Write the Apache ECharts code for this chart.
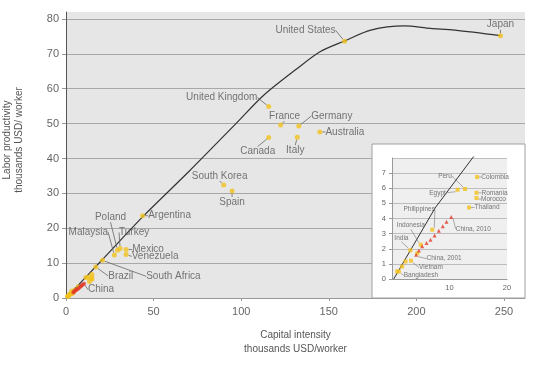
<!DOCTYPE html>
<html><head><meta charset="utf-8">
<script src="https://cdn.jsdelivr.net/npm/echarts@6/dist/echarts.min.js"></script>
<style>html,body{margin:0;padding:0;background:#fff}#c{width:550px;height:366px}</style>
</head><body><div id="c"></div>
<script>
// ---- data ----
const countries = ['Japan','United States','United Kingdom','France','Germany','Australia','Italy','Canada',
  'South Korea','Spain','Argentina','Poland','Turkey','Mexico','Venezuela','Malaysia','South Africa','Brazil',
  'Colombia','Peru','Egypt','Romania','Morocco','Thailand','Philippines','Indonesia','India','Other A',
  'Vietnam','Bangladesh','Other B','Other C','Other D'];
const capitalIntensity = [248,159,115.7,122.5,132.9,144.9,132,115.7,
  90,94.8,43.7,29.4,30.9,34.3,34.3,27.6,20.8,17,
  14.8,12.7,11.4,14.7,14.7,13.4,7.0,5.0,3.2,4.4,
  3.3,1.2,2.35,1.77,0.9];
const laborProductivity = [75.2,73.6,54.9,49.6,49.3,47.6,46.1,46,
  32.4,30.7,23.6,13.7,14.2,13.9,12.5,12.3,10.8,8.9,
  6.74,5.95,5.9,5.7,5.35,4.73,3.26,2.27,1.9,1.7,
  1.21,0.5,1.16,0.83,0.5];
const chinaYears = [2001,2002,2003,2004,2005,2006,2007,2008,2009,2010];
const chinaCapital = [4.2,4.67,5.25,6.0,6.7,7.4,8.14,8.83,9.48,10.3];
const chinaProductivity = [1.61,1.89,2.16,2.38,2.6,2.88,3.19,3.48,3.79,4.1];
const curveCapital = [0,20,44,70,97,113,132,145,159,174,193,208,222,248];
const curveProductivity = [0,10.6,23.4,36.2,50,58.2,65.8,70.6,73.7,76.8,78.0,77.3,76.8,75.2];
const insetCurveCapital = [0.3,7.5,14.2];
const insetCurveProductivity = [0,4.7,8.1];

// ---- label placement (style only) ----
const mainLabelOffsets = {
  'Japan':[0,-11],'United States':[-39,-11],'United Kingdom':[-47,-9],'France':[4,-9],'Germany':[33,-10],
  'Australia':[25,0],'Italy':[-2,13],'Canada':[-11,14],'South Korea':[-4,-9],'Spain':[0,11],
  'Argentina':[27,0],'Poland':[-7,-33],'Malaysia':[-26,-23],'Turkey':[14,-16],'Mexico':[22,0],
  'Venezuela':[29,2],'South Africa':[71,16],'Brazil':[25,9]
};
const insetLabelOffsets = {
  'Colombia':[18,0],'Peru':[-20,-13],'Egypt':[-20,3],'Romania':[18,0],'Morocco':[17,1],'Thailand':[18,0],
  'Philippines':[-13,-20],'Indonesia':[-10,-19],'India':[-9,-12],'Vietnam':[20,7],'Bangladesh':[22,4]
};
const chinaMainOffset = {9:[17,6]};
const chinaInsetOffsets = {0:[28,4], 9:[22,12]};

const FONT = 'Liberation Sans';
const YEL = '#f2c21b', RED = '#e2392b';

function pairs(xs, ys){ return xs.map((x,i)=>[x, ys[i]]); }

const mainPoints = countries.map((n,i)=>({name:n, value:[capitalIntensity[i], laborProductivity[i]],
  label:{show: !!mainLabelOffsets[n]}, labelLine:{show: !!mainLabelOffsets[n]}}));
const insetPoints = countries.map((n,i)=>({name:n, value:[capitalIntensity[i], laborProductivity[i]],
  label:{show: !!insetLabelOffsets[n]}, labelLine:{show: !!insetLabelOffsets[n]}}))
  .filter(d=>d.value[0] <= 20 && d.value[1] <= 8);
const chinaMain = chinaYears.map((yr,i)=>({name:'China', value:[chinaCapital[i], chinaProductivity[i]],
  label:{show: !!chinaMainOffset[i]}, labelLine:{show: !!chinaMainOffset[i]}}));
const chinaInset = chinaYears.map((yr,i)=>({name:'China, '+yr, value:[chinaCapital[i], chinaProductivity[i]],
  label:{show: !!chinaInsetOffsets[i]}, labelLine:{show: !!chinaInsetOffsets[i]}}));

function layoutBy(map, dataArr){
  return function(p){
    const d = dataArr[p.dataIndex];
    const o = map[d.name] || [0,0];
    return {dx:o[0], dy:o[1]};
  };
}
function layoutByIndex(map){
  return function(p){ const o = map[p.dataIndex] || [0,0]; return {dx:o[0], dy:o[1]}; };
}

const chart = echarts.init(document.getElementById('c'), null, {renderer:'canvas'});
const mainLabel = {position:'inside', color:'#555', fontSize:10, fontFamily:FONT};
const insetLabel = {position:'inside', color:'#555', fontSize:6.5, fontFamily:FONT};
const mainLine = {lineStyle:{color:'#666', width:0.8}, length2:0};
const insetLine = {lineStyle:{color:'#777', width:0.6}, length2:0};

chart.setOption({
  animation:false,
  backgroundColor:'#fff',
  textStyle:{fontFamily:FONT},
  grid:[
    {left:66, top:12, right:25, bottom:68, show:true, backgroundColor:'#e6e6e6', borderWidth:0, z:0},
    {left:392, top:158, width:115, height:121, show:true, backgroundColor:'#efefef', borderWidth:0, z:6}
  ],
  graphic:[
    {type:'rect', z:5, shape:{x:372, y:144, width:153, height:154}, style:{fill:'#fff', stroke:'#a0a0a0', lineWidth:1}},
    {type:'text', z:5, x:13, y:140, rotation:Math.PI/2, style:{text:'Labor productivity\nthousands USD/ worker',
      fill:'#555', font:'10px '+FONT, align:'center', verticalAlign:'middle', lineHeight:12}}
  ],
  xAxis:[
    {type:'value', gridIndex:0, min:0, max:262, interval:50,
      axisLine:{show:true, onZero:false, lineStyle:{color:'#999'}},
      axisTick:{show:true, length:3, lineStyle:{color:'#999'}},
      axisLabel:{color:'#666', fontSize:11, margin:8, showMaxLabel:false, formatter:v=> v%50===0 ? v : ''},
      splitLine:{show:false},
      name:'Capital intensity\nthousands USD/worker', nameLocation:'middle', nameGap:30,
      nameTextStyle:{color:'#555', fontSize:10, lineHeight:14, fontFamily:FONT}},
    {type:'value', gridIndex:1, min:0, max:20, interval:10, z:7,
      axisLine:{show:true, onZero:false, lineStyle:{color:'#999'}},
      axisTick:{show:false},
      axisLabel:{color:'#666', fontSize:7.5, margin:5, formatter:v=> v===0 ? '' : v},
      splitLine:{show:false}}
  ],
  yAxis:[
    {type:'value', gridIndex:0, min:0, max:82, interval:10,
      axisLine:{show:true, onZero:false, lineStyle:{color:'#555'}},
      axisTick:{show:true, length:4, lineStyle:{color:'#999'}},
      axisLabel:{color:'#666', fontSize:11, margin:7, showMaxLabel:false, formatter:v=> v%10===0 ? v : ''},
      splitLine:{show:true, showMaxLine:false, lineStyle:{color:'#a8a8a8', width:1}}},
    {type:'value', gridIndex:1, min:0, max:8, interval:1, z:7,
      axisLine:{show:true, onZero:false, lineStyle:{color:'#999'}},
      axisTick:{show:true, length:3, lineStyle:{color:'#999'}},
      axisLabel:{color:'#666', fontSize:7.5, margin:6, showMaxLabel:false},
      splitLine:{show:true, lineStyle:{color:'#b0b0b0', width:0.8}}}
  ],
  series:[
    {type:'line', xAxisIndex:0, yAxisIndex:0, data:pairs(curveCapital, curveProductivity), smooth:0.3,
      showSymbol:false, lineStyle:{color:'#333', width:1.2}, z:2, silent:true},
    {type:'scatter', xAxisIndex:0, yAxisIndex:0, data:mainPoints, symbol:'circle', symbolSize:5,
      itemStyle:{color:YEL}, label:Object.assign({formatter:'{b}'}, mainLabel), labelLine:mainLine,
      labelLayout:layoutBy(mainLabelOffsets, mainPoints), z:3},
    {type:'scatter', xAxisIndex:0, yAxisIndex:0, data:chinaMain, symbol:'circle', symbolSize:4,
      itemStyle:{color:RED}, label:Object.assign({formatter:'China'}, mainLabel), labelLine:mainLine,
      labelLayout:layoutByIndex(chinaMainOffset), z:3},
    {type:'line', xAxisIndex:1, yAxisIndex:1, data:pairs(insetCurveCapital, insetCurveProductivity), smooth:false,
      showSymbol:false, lineStyle:{color:'#333', width:1}, z:8, clip:false, silent:true},
    {type:'scatter', xAxisIndex:1, yAxisIndex:1, data:insetPoints, symbol:'rect', symbolSize:4,
      itemStyle:{color:YEL}, label:Object.assign({formatter:'{b}'}, insetLabel), labelLine:insetLine,
      labelLayout:layoutBy(insetLabelOffsets, insetPoints), z:9},
    {type:'scatter', xAxisIndex:1, yAxisIndex:1, data:chinaInset, symbol:'triangle', symbolSize:4,
      itemStyle:{color:RED}, label:Object.assign({formatter:'{b}'}, insetLabel), labelLine:insetLine,
      labelLayout:layoutByIndex(chinaInsetOffsets), z:9}
  ]
});
</script></body></html>
